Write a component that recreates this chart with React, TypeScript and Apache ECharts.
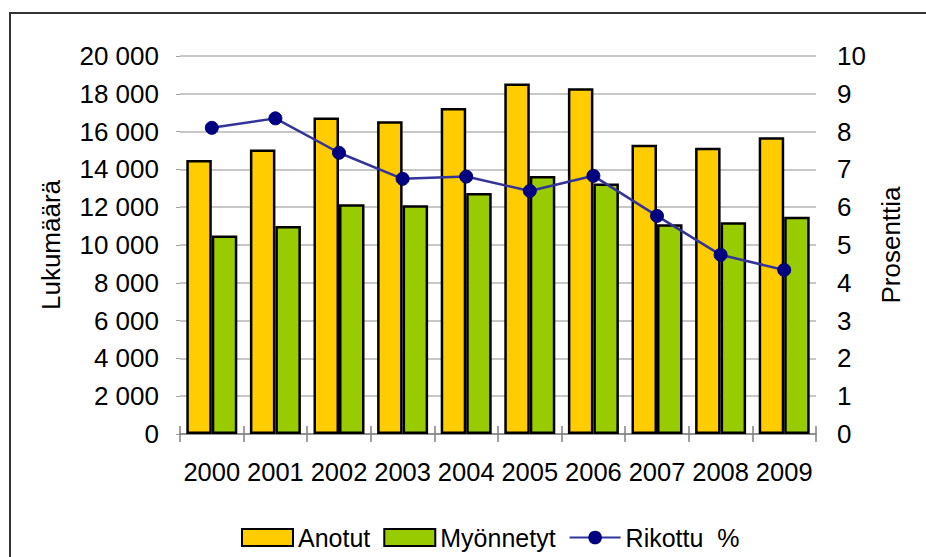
import React, { useEffect, useRef } from "react";
import * as echarts from "echarts";

const years = ["2000", "2001", "2002", "2003", "2004", "2005", "2006", "2007", "2008", "2009"];
const anotut = [14500, 15050, 16750, 16550, 17250, 18550, 18300, 15300, 15150, 15700];
const myonnetyt = [10500, 11000, 12150, 12100, 12750, 13650, 13250, 11100, 11200, 11500];
const rikottu = [8.1, 8.35, 7.44, 6.75, 6.81, 6.43, 6.83, 5.77, 4.74, 4.34];
const leftTicks = { min: 0, max: 20000, interval: 2000 };
const rightTicks = { min: 0, max: 10, interval: 1 };
const seriesNames = ["Anotut", "Myönnetyt", "Rikottu\u00a0\u00a0%"];

const FONT = "'Liberation Sans', Arial, sans-serif";

function fmtThousands(v: number): string {
  return String(v).replace(/\B(?=(\d{3})+(?!\d))/g, " ");
}

export default function App() {
  const ref = useRef<HTMLDivElement>(null);
  useEffect(() => {
    if (!ref.current) return;
    const chart = echarts.init(ref.current, undefined, { renderer: "svg" });
    chart.setOption({
      animation: false,
      backgroundColor: "#ffffff",
      textStyle: { fontFamily: FONT, color: "#000" },
      grid: { left: 180, right: 110, top: 56, bottom: 123, containLabel: false },
      graphic: [
        {
          type: "rect",
          shape: { x: 10, y: 13, width: 1000, height: 1000 },
          style: { fill: "none", stroke: "#333333", lineWidth: 2 },
          silent: true,
        },
      ],
      legend: {
        left: 236,
        top: 520,
        itemWidth: 51,
        itemHeight: 17,
        itemGap: 13,
        textStyle: { fontFamily: FONT, fontSize: 25, color: "#000" },
        data: [
          { name: seriesNames[0], icon: "rect" },
          { name: seriesNames[1], icon: "rect" },
          { name: seriesNames[2] },
        ],
      },
      xAxis: [
        {
          type: "category",
          data: years,
          position: "bottom",
          axisLine: { show: true, lineStyle: { color: "#808080", width: 1.5 } },
          axisTick: { show: true, length: 8, lineStyle: { color: "#808080", width: 1.5 } },
          axisLabel: { fontFamily: FONT, fontSize: 25.5, color: "#000", margin: 25, interval: 0 },
        },
        {
          type: "category",
          data: years,
          position: "bottom",
          axisLine: { show: false },
          axisTick: { show: true, inside: true, length: 8, lineStyle: { color: "#808080", width: 1.5 } },
          axisLabel: { show: false },
        },
      ],
      yAxis: [
        {
          type: "value",
          min: leftTicks.min,
          max: leftTicks.max,
          interval: leftTicks.interval,
          name: "Lukumäärä",
          nameLocation: "middle",
          nameGap: 116,
          nameRotate: 90,
          nameTextStyle: { fontFamily: FONT, fontSize: 26, color: "#000" },
          axisLine: { show: false },
          axisTick: { show: true, length: 4, lineStyle: { color: "#A0A0A0" } },
          axisLabel: {
            fontFamily: FONT,
            fontSize: 26,
            color: "#000",
            margin: 21,
            formatter: (v: number) => fmtThousands(v),
          },
          splitLine: { show: true, lineStyle: { color: "#B4B4B4", width: 1.5 } },
        },
        {
          type: "value",
          min: rightTicks.min,
          max: rightTicks.max,
          interval: rightTicks.interval,
          name: "Prosenttia",
          nameLocation: "middle",
          nameGap: 62,
          nameRotate: 90,
          nameTextStyle: { fontFamily: FONT, fontSize: 26, color: "#000" },
          axisLine: { show: false },
          axisTick: { show: false },
          axisLabel: { fontFamily: FONT, fontSize: 26, color: "#000", margin: 21 },
          splitLine: { show: false },
        },
      ],
      series: [
        {
          name: seriesNames[0],
          type: "bar",
          data: anotut,
          barWidth: 25.5,
          barGap: "0%",
          itemStyle: { color: "#FFCC00", borderColor: "#000", borderWidth: 2.5 },
        },
        {
          name: seriesNames[1],
          type: "bar",
          data: myonnetyt,
          barWidth: 25.5,
          barGap: "0%",
          itemStyle: { color: "#99CC00", borderColor: "#000", borderWidth: 2.5 },
        },
        {
          name: seriesNames[2],
          type: "line",
          yAxisIndex: 1,
          data: rikottu,
          symbol: "circle",
          symbolSize: 13,
          lineStyle: { color: "#333399", width: 2.5 },
          itemStyle: { color: "#000080", borderColor: "#000080" },
          z: 5,
        },
      ],
    });
    return () => chart.dispose();
  }, []);
  return (
    <div
      ref={ref}
      style={{ position: "fixed", left: 0, top: 0, width: 926, height: 557, background: "#fff" }}
    />
  );
}
